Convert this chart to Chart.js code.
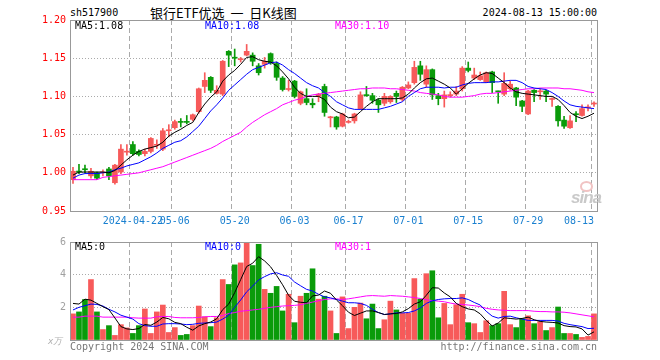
<!DOCTYPE html>
<html lang="zh">
<head>
<meta charset="UTF-8">
<title>sh517900 日K线图</title>
<script src="https://cdn.jsdelivr.net/npm/chart.js"></script>
<style>
  body { margin: 0; background: #fff; }
  #wrap { position: relative; width: 660px; height: 360px; overflow: hidden; }
  canvas { position: absolute; left: 0; }
  .t { position: absolute; font-family: "DejaVu Sans Mono", monospace; font-size: 10px; line-height: 12px; white-space: nowrap; }
  #title { position: absolute; left: 150px; top: 4px; font-family: "Noto Sans CJK SC", sans-serif; font-size: 13px; line-height: 18px; white-space: pre; }
  #sina { position: absolute; left: 571px; top: 188px; font-family: "Liberation Sans", Arial, sans-serif; font-style: italic; font-weight: bold; font-size: 17px; color: #c9c9c9; letter-spacing: -1px; }
  #eye { position: absolute; left: 580px; top: 181px; width: 9px; height: 7px; border: 2px solid #f1c3c3; border-radius: 50%; }
</style>
</head>
<body>
<div id="wrap">
  <div class="t" style="left:70px;top:7px;color:#000">sh517900</div>
  <div id="title">银行ETF优选  一  日K线图</div>
  <div class="t" style="right:63px;top:7px;color:#000">2024-08-13 15:00:00</div>

  <canvas id="kline" width="660" height="232" style="top:0"></canvas>
  <canvas id="vol" width="660" height="128" style="top:232px"></canvas>

  <div class="t" style="left:75px;top:20px;color:#000">MA5:1.08</div>
  <div class="t" style="left:205px;top:20px;color:#0000ff">MA10:1.08</div>
  <div class="t" style="left:335px;top:20px;color:#ff00ff">MA30:1.10</div>

  <div class="t" style="left:75px;top:241px;color:#000">MA5:0</div>
  <div class="t" style="left:205px;top:241px;color:#0000ff">MA10:0</div>
  <div class="t" style="left:335px;top:241px;color:#ff00ff">MA30:1</div>

  <div id="eye"></div>
  <div id="sina">sina</div>

  <div class="t" style="left:48px;top:335px;color:#b0b0b0;font-size:9px;font-style:italic">x万</div>
  <div class="t" style="left:70px;top:341px;color:#777">Copyright 2024 SINA.COM</div>
  <div class="t" style="right:63px;top:341px;color:#777">http://finance.sina.com.cn</div>
</div>

<script>
// trading days shown (2024)
const dates = [
  '04-08','04-09','04-10','04-11','04-12','04-15','04-16','04-17','04-18','04-19',
  '04-22','04-23','04-24','04-25','04-26','04-29','04-30','05-06','05-07','05-08',
  '05-09','05-10','05-13','05-14','05-15','05-16','05-17','05-20','05-21','05-22',
  '05-23','05-24','05-27','05-28','05-29','05-30','05-31','06-03','06-04','06-05',
  '06-06','06-07','06-11','06-12','06-13','06-14','06-17','06-18','06-19','06-20',
  '06-21','06-24','06-25','06-26','06-27','06-28','07-01','07-02','07-03','07-04',
  '07-05','07-08','07-09','07-10','07-11','07-12','07-15','07-16','07-17','07-18',
  '07-19','07-22','07-23','07-24','07-25','07-26','07-29','07-30','07-31','08-01',
  '08-02','08-05','08-06','08-07','08-08','08-09','08-12','08-13'
];

// x axis labels
const axisDates = ['04-22','05-06','05-20','06-03','06-17','07-01','07-15','07-29','08-13'];
const axisText  = ['2024-04-22','05-06','05-20','06-03','06-17','07-01','07-15','07-29','08-13'];

const opens = [
  0.991,1.002,1.005,0.996,1.000,1.000,1.005,0.987,1.001,1.027,
  1.037,1.028,1.025,1.028,1.036,1.031,1.055,1.059,1.067,1.067,
  1.070,1.080,1.113,1.125,1.104,1.103,1.159,1.151,1.148,1.154,
  1.154,1.140,1.142,1.156,1.143,1.124,1.109,1.120,1.091,1.097,
  1.091,1.100,1.113,1.072,1.073,1.061,1.066,1.068,1.084,1.102,
  1.101,1.095,1.091,1.093,1.104,1.096,1.111,1.118,1.140,1.116,
  1.135,1.101,1.097,1.101,1.103,1.110,1.137,1.124,1.122,1.119,
  1.132,1.107,1.103,1.110,1.111,1.094,1.077,1.108,1.106,1.107,
  1.096,1.087,1.069,1.059,1.077,1.075,1.085,1.090
];
const highs = [
  1.007,1.011,1.010,1.006,1.001,1.004,1.007,1.011,1.037,1.037,
  1.041,1.030,1.031,1.046,1.043,1.058,1.063,1.069,1.071,1.075,
  1.077,1.111,1.131,1.126,1.114,1.147,1.160,1.162,1.151,1.168,
  1.157,1.143,1.151,1.157,1.145,1.126,1.121,1.121,1.107,1.110,
  1.097,1.104,1.116,1.074,1.074,1.078,1.069,1.078,1.106,1.113,
  1.104,1.097,1.104,1.101,1.107,1.113,1.119,1.146,1.146,1.140,
  1.136,1.104,1.107,1.106,1.113,1.139,1.145,1.137,1.132,1.132,
  1.133,1.107,1.131,1.120,1.112,1.095,1.108,1.109,1.110,1.108,
  1.098,1.088,1.074,1.075,1.080,1.089,1.089,1.093
];
const lows = [
  0.986,0.999,1.000,0.993,0.991,0.996,0.991,0.985,0.999,1.023,
  1.023,1.022,1.022,1.026,1.032,1.029,1.047,1.057,1.060,1.064,
  1.068,1.078,1.105,1.105,1.103,1.101,1.139,1.140,1.145,1.153,
  1.140,1.128,1.137,1.142,1.121,1.107,1.107,1.098,1.089,1.089,
  1.085,1.093,1.074,1.060,1.057,1.060,1.065,1.065,1.083,1.100,
  1.091,1.079,1.088,1.091,1.092,1.094,1.110,1.116,1.121,1.112,
  1.096,1.089,1.086,1.099,1.101,1.107,1.132,1.122,1.121,1.118,
  1.105,1.091,1.101,1.108,1.088,1.080,1.076,1.093,1.096,1.093,
  1.087,1.061,1.058,1.058,1.067,1.074,1.081,1.087
];
const closes = [
  1.002,1.001,1.004,1.002,0.993,1.001,0.996,1.010,1.031,1.028,
  1.025,1.024,1.028,1.045,1.037,1.055,1.056,1.067,1.066,1.066,
  1.076,1.110,1.121,1.108,1.108,1.146,1.154,1.150,1.149,1.159,
  1.146,1.131,1.146,1.144,1.125,1.109,1.110,1.100,1.106,1.092,
  1.089,1.103,1.079,1.073,1.060,1.077,1.067,1.077,1.102,1.101,
  1.095,1.089,1.100,1.100,1.100,1.112,1.115,1.138,1.129,1.135,
  1.102,1.097,1.102,1.102,1.107,1.137,1.134,1.128,1.127,1.131,
  1.118,1.106,1.117,1.116,1.099,1.087,1.107,1.105,1.107,1.103,
  1.097,1.068,1.061,1.068,1.076,1.084,1.086,1.091
];

// moving averages as drawn on the price panel
const ma5 = [
  0.997,1.001,1.001,1.001,1.001,1.001,1.000,1.003,1.010,1.017,
  1.023,1.028,1.031,1.033,1.035,1.040,1.048,1.053,1.057,1.062,
  1.066,1.079,1.090,1.099,1.106,1.120,1.128,1.134,1.142,1.151,
  1.152,1.148,1.146,1.145,1.140,1.132,1.123,1.112,1.104,1.100,
  1.100,1.100,1.096,1.086,1.080,1.077,1.072,1.073,1.080,1.087,
  1.093,1.097,1.097,1.097,1.097,1.098,1.103,1.111,1.118,1.123,
  1.124,1.120,1.116,1.111,1.103,1.110,1.117,1.123,1.128,1.131,
  1.130,1.124,1.118,1.111,1.106,1.104,1.103,1.102,1.101,1.100,
  1.100,1.096,1.088,1.079,1.074,1.071,1.074,1.078
];
const ma10 = [
  0.993,0.997,0.999,0.999,0.999,1.000,1.001,1.004,1.006,1.009,
  1.011,1.013,1.017,1.021,1.026,1.032,1.036,1.040,1.042,1.047,
  1.054,1.061,1.071,1.081,1.089,1.098,1.108,1.115,1.122,1.129,
  1.135,1.138,1.141,1.144,1.145,1.141,1.135,1.130,1.124,1.118,
  1.114,1.111,1.105,1.100,1.093,1.089,1.085,1.083,1.083,1.083,
  1.083,1.083,1.085,1.087,1.090,1.093,1.100,1.105,1.110,1.112,
  1.112,1.112,1.111,1.112,1.112,1.115,1.117,1.118,1.118,1.118,
  1.119,1.119,1.120,1.121,1.121,1.118,1.113,1.111,1.110,1.109,
  1.105,1.100,1.094,1.089,1.087,1.086,1.085,1.084
];
const ma30 = [
  0.991,0.991,0.991,0.991,0.991,0.994,0.995,0.996,0.997,0.998,
  0.999,1.000,1.002,1.004,1.006,1.008,1.011,1.014,1.017,1.020,
  1.023,1.026,1.029,1.032,1.036,1.041,1.045,1.049,1.053,1.060,
  1.066,1.071,1.076,1.080,1.084,1.089,1.092,1.095,1.097,1.100,
  1.102,1.103,1.104,1.105,1.106,1.107,1.108,1.109,1.110,1.110,
  1.111,1.111,1.111,1.110,1.110,1.109,1.108,1.107,1.105,1.104,
  1.103,1.102,1.100,1.099,1.099,1.099,1.100,1.101,1.103,1.104,
  1.104,1.105,1.106,1.107,1.108,1.109,1.110,1.110,1.111,1.111,
  1.111,1.111,1.110,1.110,1.109,1.108,1.106,1.105
];

// volume, in 万 (10k) lots
const volumes = [
  1.6,1.72,2.48,3.7,1.72,0.64,0.88,0.28,0.94,0.74,
  0.4,0.88,1.9,0.4,1.72,2.14,0.46,0.76,0.28,0.34,
  0.88,2.08,1.42,0.82,1.36,3.7,3.4,4.6,4.72,6.0,
  4.56,5.86,3.1,2.86,3.28,1.78,2.8,1.06,2.68,2.86,
  4.36,2.5,2.68,1.78,0.4,2.64,0.7,2.0,2.26,1.3,
  2.2,0.7,1.24,2.38,1.84,1.64,1.64,3.76,2.5,4.06,
  4.24,1.36,2.24,0.94,2.16,2.8,1.06,1.0,0.46,1.18,
  0.88,1.0,2.98,0.94,0.76,1.3,1.48,1.0,1.12,0.58,
  0.76,2.02,0.4,0.4,0.34,0.16,0.22,1.6
];
const volMa5 = [
  2.24,2.2,2.5,2.44,2.24,2.04,1.86,1.35,0.82,0.68,
  0.64,0.7,0.95,0.9,1.1,1.38,1.3,1.08,1.0,0.78,
  0.6,0.86,1.0,1.1,1.3,1.86,2.2,2.9,3.7,4.5,
  4.7,5.1,4.84,4.48,3.95,3.38,2.74,2.37,2.31,2.28,
  2.7,2.75,3.0,2.86,2.45,2.1,1.7,1.5,1.64,1.78,
  1.78,1.68,1.56,1.6,1.62,1.72,1.92,2.2,2.34,2.74,
  3.2,3.18,2.88,2.64,2.24,2.04,1.9,1.84,1.6,1.2,
  0.86,1.04,1.36,1.32,1.28,1.32,1.4,1.24,1.14,1.1,
  1.08,1.04,0.88,0.82,0.8,0.68,0.3,0.5
];
const volMa10 = [
  1.84,2.0,2.1,2.2,2.18,2.08,1.88,1.72,1.52,1.4,
  1.28,1.0,0.88,0.84,0.84,0.98,1.0,1.0,0.98,0.94,
  0.96,1.02,1.04,1.06,1.1,1.28,1.52,2.0,2.45,2.95,
  3.3,3.68,3.88,4.05,4.12,3.98,3.9,3.55,3.32,3.1,
  3.0,2.8,2.64,2.58,2.48,2.38,2.28,2.28,2.24,2.12,
  1.88,1.68,1.56,1.6,1.66,1.66,1.68,1.78,1.96,2.24,
  2.4,2.48,2.52,2.54,2.54,2.58,2.48,2.3,2.14,1.76,
  1.46,1.34,1.44,1.46,1.36,1.28,1.2,1.2,1.2,1.2,
  1.2,1.16,1.02,0.94,0.88,0.82,0.7,0.72
];
const volMa30 = [
  1.4,1.4,1.46,1.46,1.46,1.4,1.4,1.4,1.4,1.4,
  1.36,1.34,1.34,1.34,1.42,1.44,1.44,1.38,1.36,1.36,
  1.36,1.38,1.42,1.44,1.44,1.5,1.62,1.68,1.76,1.8,
  1.84,1.88,1.94,2.0,2.04,2.08,2.1,2.12,2.16,2.24,
  2.32,2.4,2.48,2.52,2.52,2.48,2.52,2.58,2.64,2.7,
  2.72,2.7,2.68,2.72,2.7,2.68,2.64,2.6,2.54,2.46,
  2.42,2.38,2.34,2.26,2.2,2.18,2.14,2.1,2.04,1.94,
  1.88,1.84,1.82,1.8,1.8,1.8,1.8,1.76,1.74,1.74,
  1.72,1.72,1.7,1.66,1.6,1.54,1.48,1.42
];

const UP = '#f75a5a';
const DOWN = '#0a9b0a';
const GRID = '#aaaaaa';
const MONO = { family: 'DejaVu Sans Mono', size: 10 };

const candleColors = closes.map((c, i) => c >= opens[i] ? UP : DOWN);
const gridIdx = axisDates.map(d => dates.indexOf(d));

// grey frame round the plot area
const framePlugin = {
  id: 'frame',
  afterDraw(chart) {
    const a = chart.chartArea;
    const ctx = chart.ctx;
    ctx.save();
    ctx.strokeStyle = '#999';
    ctx.lineWidth = 1;
    ctx.strokeRect(Math.round(a.left) + 0.5, Math.round(a.top) + 0.5,
                   Math.round(a.right - a.left), Math.round(a.bottom - a.top));
    ctx.restore();
  }
};

function xScale(showLabels) {
  return {
    type: 'category',
    offset: true,
    grid: {
      offset: true,
      drawTicks: false,
      lineWidth: 1,
      color: ctx => gridIdx.includes(ctx.index) ? GRID : 'rgba(0,0,0,0)'
    },
    border: { display: false, dash: [5, 3] },
    ticks: {
      display: showLabels,
      autoSkip: false,
      maxRotation: 0,
      minRotation: 0,
      align: 'inner',
      padding: 4,
      color: '#1a80d0',
      font: MONO,
      callback: (v, i) => {
        const k = gridIdx.indexOf(i);
        return k >= 0 ? axisText[k] : '';
      }
    },
    afterFit: s => { s.height = showLabels ? 21 : 20; }
  };
}

function maLine(data, color) {
  return {
    type: 'line',
    data: data,
    borderColor: color,
    borderWidth: 1,
    pointRadius: 0,
    tension: 0,
    order: 0
  };
}

new Chart(document.getElementById('kline'), {
  type: 'bar',
  data: {
    labels: dates,
    datasets: [
      {
        // wicks
        data: lows.map((l, i) => [l, highs[i]]),
        backgroundColor: candleColors,
        barThickness: 1,
        grouped: false,
        order: 2
      },
      {
        // bodies
        data: opens.map((o, i) => [o, closes[i]]),
        backgroundColor: candleColors,
        barThickness: 5,
        minBarLength: 1,
        grouped: false,
        order: 1
      },
      maLine(ma5, '#000000'),
      maLine(ma10, '#0000ff'),
      maLine(ma30, '#ff00ff')
    ]
  },
  options: {
    responsive: false,
    animation: false,
    layout: { padding: { left: 0, right: 63, top: 20, bottom: 0 } },
    plugins: { legend: { display: false }, tooltip: { enabled: false } },
    scales: {
      x: xScale(true),
      y: {
        min: 0.95,
        max: 1.20,
        ticks: {
          stepSize: 0.05,
          padding: 4,
          color: '#ff0000',
          font: MONO,
          callback: v => Number(v).toFixed(2)
        },
        grid: { color: GRID, drawTicks: false, lineWidth: 1 },
        border: { display: false, dash: [1, 2] },
        afterFit: s => { s.width = 70; }
      }
    }
  },
  plugins: [framePlugin]
});

new Chart(document.getElementById('vol'), {
  type: 'bar',
  data: {
    labels: dates,
    datasets: [
      {
        data: volumes,
        backgroundColor: candleColors,
        barThickness: 5,
        grouped: false,
        order: 1
      },
      maLine(volMa5, '#000000'),
      maLine(volMa10, '#0000ff'),
      maLine(volMa30, '#ff00ff')
    ]
  },
  options: {
    responsive: false,
    animation: false,
    layout: { padding: { left: 0, right: 63, top: 8, bottom: 0 } },
    plugins: { legend: { display: false }, tooltip: { enabled: false } },
    scales: {
      x: xScale(false),
      y: {
        min: 0,
        max: 6,
        ticks: {
          stepSize: 2,
          padding: 4,
          color: '#a0a0a0',
          font: MONO,
          callback: v => v === 0 ? '' : v
        },
        grid: { color: GRID, drawTicks: false, lineWidth: 1 },
        border: { display: false, dash: [1, 2] },
        afterFit: s => { s.width = 70; }
      }
    }
  },
  plugins: [framePlugin]
});
</script>
</body>
</html>
